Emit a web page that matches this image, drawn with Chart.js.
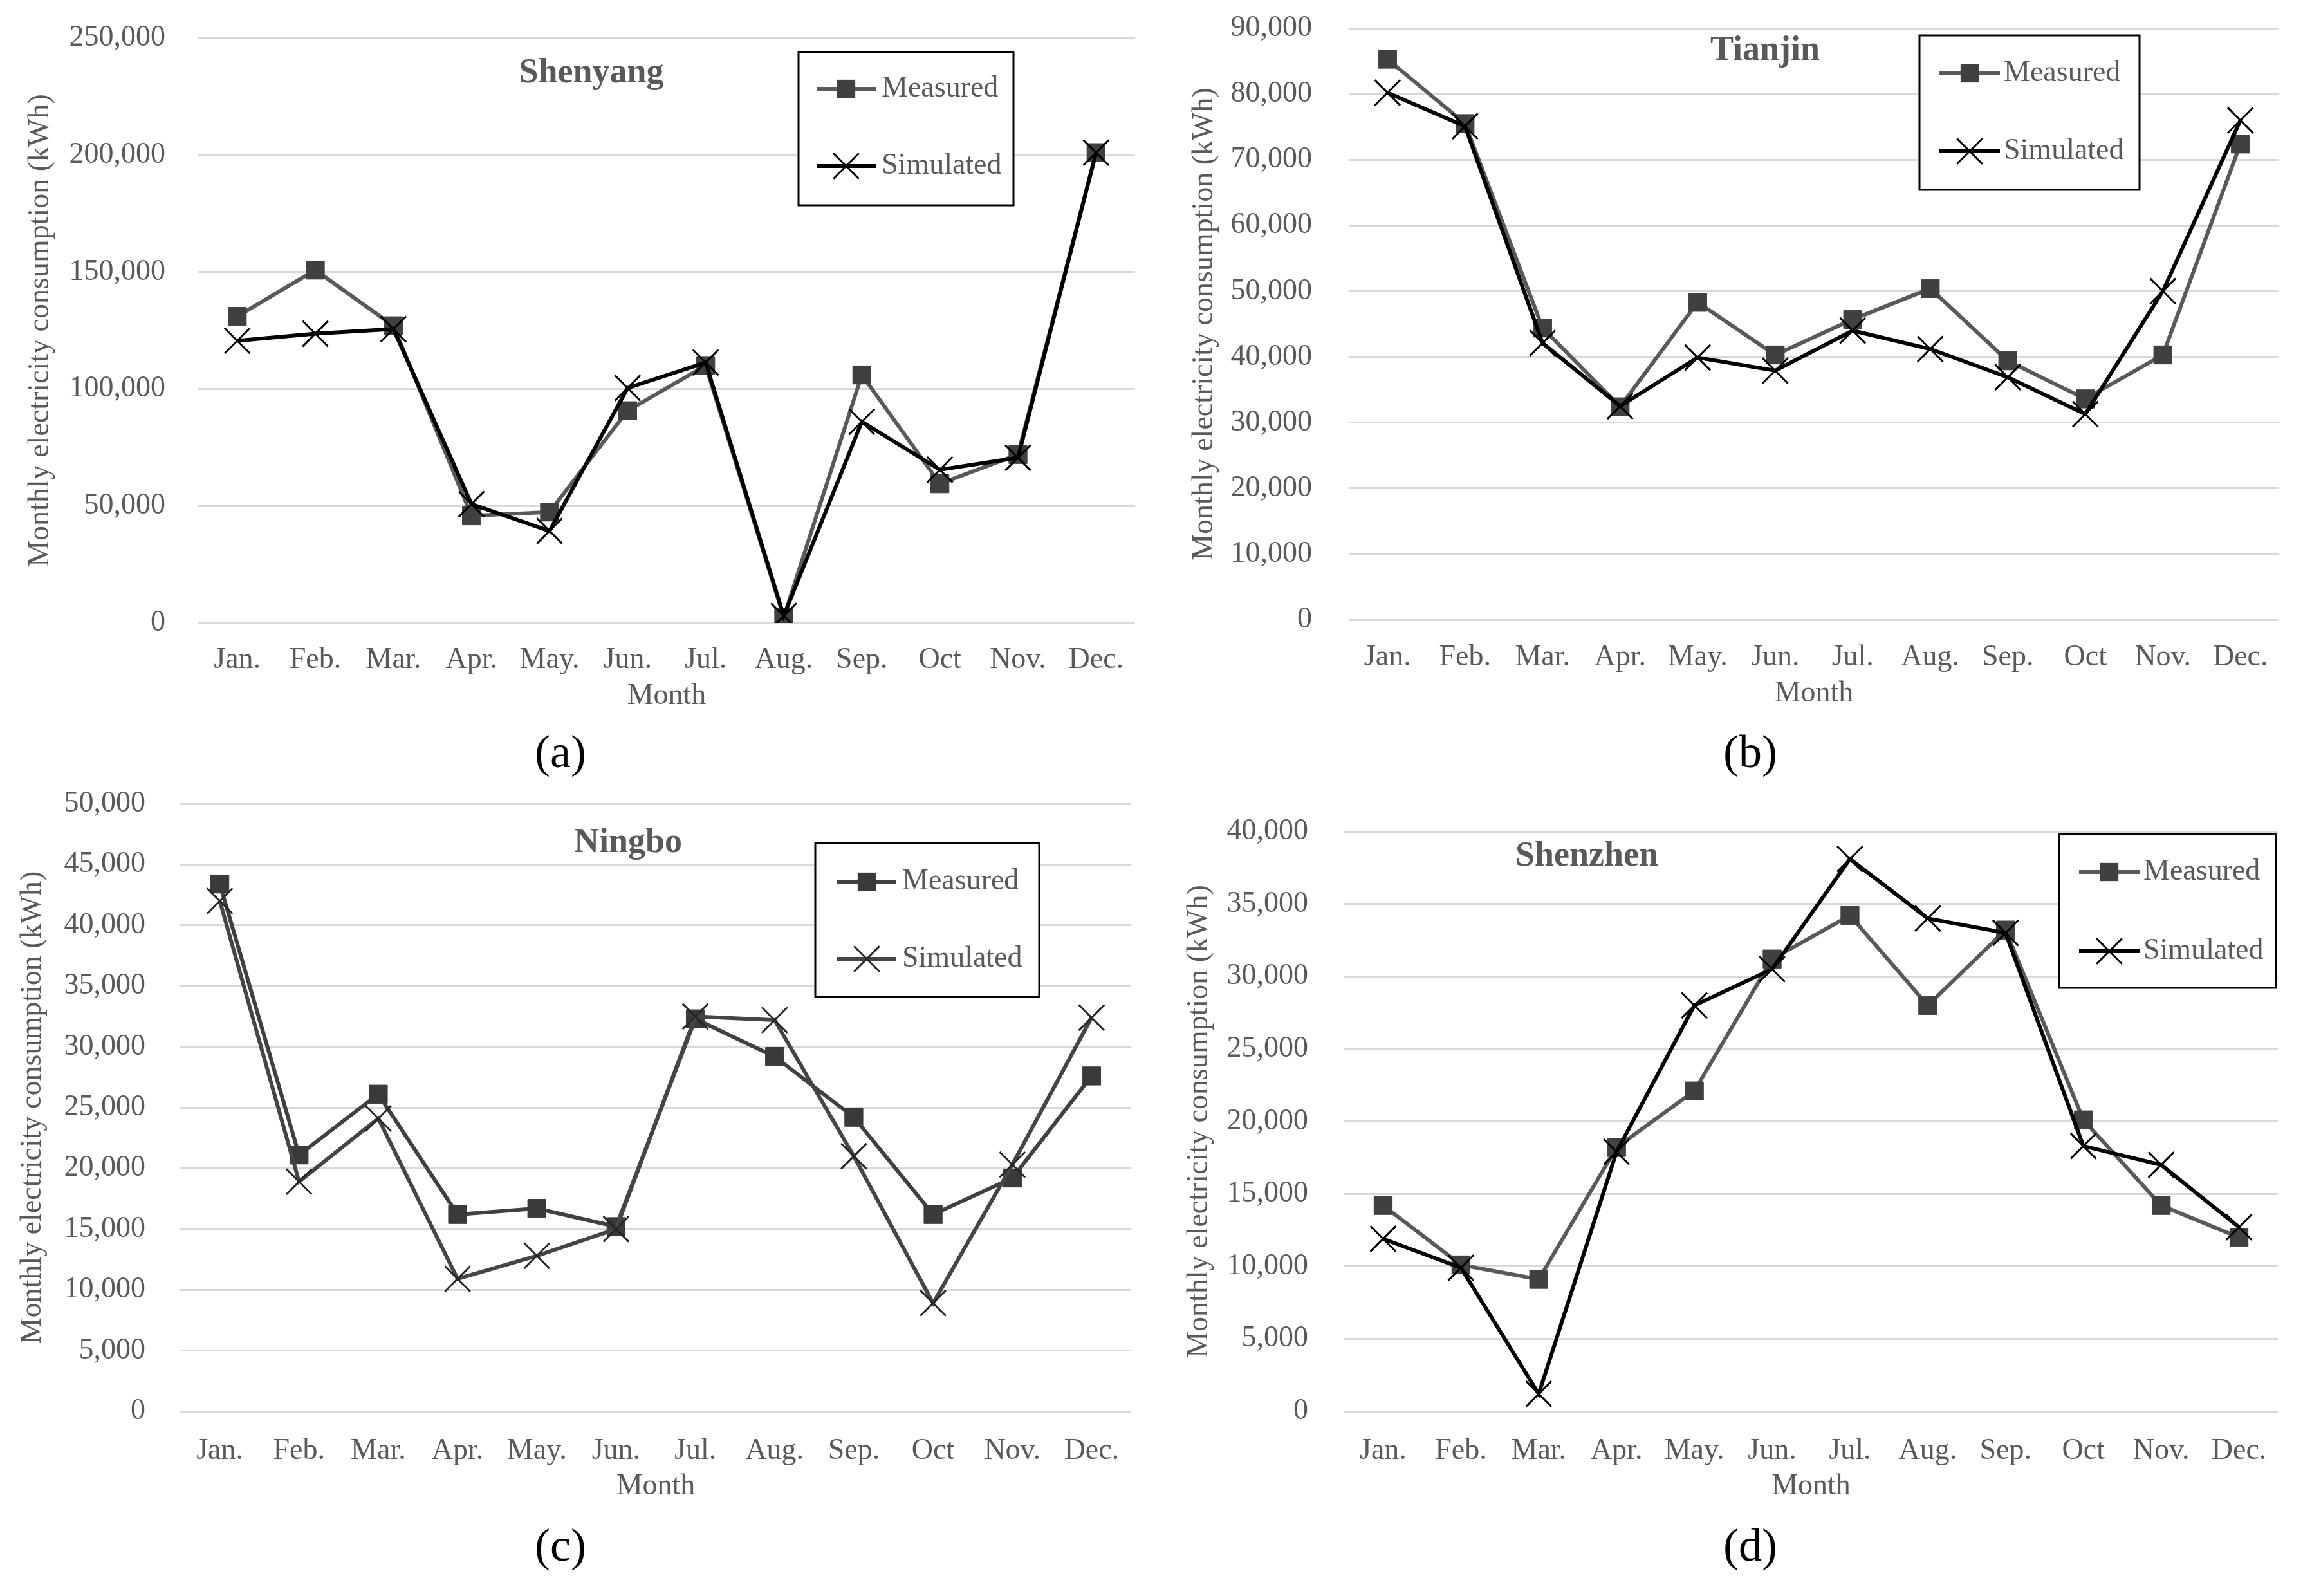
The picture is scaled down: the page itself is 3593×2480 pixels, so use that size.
<!DOCTYPE html>
<html>
<head>
<meta charset="utf-8">
<script src="https://cdn.jsdelivr.net/npm/chart.js@4.4.1/dist/chart.umd.min.js"></script>
<style>
  html, body { margin: 0; padding: 0; background: #fff; }
  #page { position: relative; width: 3593px; height: 2480px; overflow: hidden; background: #fff; }
  .panel { position: absolute; }
</style>
</head>
<body>
<div id="page">
  <div class="panel" style="left:0px;top:0px;width:1796px;height:1240px"><canvas id="chartA"></canvas></div>
  <div class="panel" style="left:1796px;top:0px;width:1797px;height:1240px"><canvas id="chartB"></canvas></div>
  <div class="panel" style="left:0px;top:1200px;width:1796px;height:1280px"><canvas id="chartC"></canvas></div>
  <div class="panel" style="left:1796px;top:1200px;width:1797px;height:1280px"><canvas id="chartD"></canvas></div>
</div>
<script>
// --- DATA ---
const months = ["Jan.", "Feb.", "Mar.", "Apr.", "May.", "Jun.", "Jul.", "Aug.", "Sep.", "Oct", "Nov.", "Dec."];
const seriesNames = ["Measured", "Simulated"];

const shenyangMeasured  = [131000, 150800, 127000, 45800, 47400, 90700, 110000, 2400, 106000, 59500, 72000, 201000];
const shenyangSimulated = [120600, 123600, 125600, 50800, 39300, 100400, 111300, 3000, 86000, 65500, 70600, 201000];

const tianjinMeasured  = [85300, 75500, 44400, 32400, 48300, 40300, 45700, 50400, 39400, 33600, 40300, 72400];
const tianjinSimulated = [80200, 75100, 42100, 32500, 39900, 37900, 44000, 41200, 36900, 31300, 50000, 76000];

const ningboMeasured  = [43400, 21100, 26100, 16200, 16700, 15200, 32300, 29200, 24200, 16200, 19200, 27600];
const ningboSimulated = [42000, 18900, 24100, 10900, 12800, 15000, 32500, 32200, 21000, 8900, 20300, 32400];

const shenzhenMeasured  = [14200, 10100, 9100, 18200, 22100, 31200, 34200, 28000, 33200, 20100, 14200, 12000];
const shenzhenSimulated = [11900, 9900, 1200, 17900, 28000, 30500, 38100, 34000, 33000, 18300, 17000, 12700];

const cityNames = ["Shenyang", "Tianjin", "Ningbo", "Shenzhen"];
const panelLabels = ["(a)", "(b)", "(c)", "(d)"];
const yMaxes = [250000, 90000, 50000, 40000];
const ySteps = [50000, 10000, 5000, 5000];

// --- STYLE ---
const FONT = '"Liberation Serif", "Times New Roman", serif';
const TEXT_GRAY = "#595959";
Chart.defaults.font.family = FONT;
Chart.defaults.color = TEXT_GRAY;

// draws in-plot title, boxed legend and the (a)..(d) label
const decor = {
    id: "decor",
    afterDraw(chart, args, o) {
        const ctx = chart.ctx;
        ctx.save();
        ctx.fillStyle = TEXT_GRAY;
        ctx.textAlign = "center";
        ctx.textBaseline = "middle";
        ctx.font = `bold 54px ${FONT}`;
        ctx.fillText(o.title, o.titleX, o.titleY);

        // legend box
        const [x1, y1, x2, y2] = o.box;
        ctx.fillStyle = "#fff";
        ctx.fillRect(x1, y1, x2 - x1, y2 - y1);
        ctx.strokeStyle = "#000";
        ctx.lineWidth = 3;
        ctx.strokeRect(x1, y1, x2 - x1, y2 - y1);

        chart.data.datasets.forEach((ds, i) => {
            const y = o.rows[i];
            const [lx1, lx2] = o.line;
            const cx = (lx1 + lx2) / 2;
            ctx.strokeStyle = ds.borderColor;
            ctx.lineWidth = ds.borderWidth;
            ctx.beginPath();
            ctx.moveTo(lx1, y);
            ctx.lineTo(lx2, y);
            ctx.stroke();
            if (ds.pointStyle === "rect") {
                const s = ds.pointRadius * Math.SQRT2;
                ctx.fillStyle = ds.pointBackgroundColor;
                ctx.fillRect(cx - s / 2, y - s / 2, s, s);
            } else {
                const a = ds.pointRadius * Math.SQRT1_2;
                ctx.strokeStyle = ds.pointBorderColor;
                ctx.lineWidth = ds.pointBorderWidth;
                ctx.beginPath();
                ctx.moveTo(cx - a, y - a); ctx.lineTo(cx + a, y + a);
                ctx.moveTo(cx + a, y - a); ctx.lineTo(cx - a, y + a);
                ctx.stroke();
            }
            ctx.fillStyle = TEXT_GRAY;
            ctx.textAlign = "left";
            ctx.font = `46px ${FONT}`;
            ctx.fillText(ds.label, o.textX, y);
        });

        // panel label
        ctx.fillStyle = "#000";
        ctx.textAlign = "center";
        ctx.font = `72px ${FONT}`;
        ctx.fillText(o.label, o.labelX, o.labelY);
        ctx.restore();
    }
};

// canvas-local layout of each panel
const layouts = [
    { w: 1796, h: 1240, l: 308, r: 1764, t: 59, b: 968, yPad: 51, yTitlePad: 35, xPad: 30, monthPad: 130,
      titleX: 919, titleY: 114, box: [1241, 81, 1575, 319], line: [1269, 1361], textX: 1370, rows: [138, 258],
      labelX: 871, labelY: 1173 },
    { w: 1797, h: 1240, l: 300, r: 1746, t: 44, b: 963, yPad: 57, yTitlePad: 48, xPad: 31, monthPad: 134,
      titleX: 947, titleY: 79, box: [1187, 55, 1529, 295], line: [1218, 1312], textX: 1318, rows: [114, 235],
      labelX: 924, labelY: 1173 },
    { w: 1796, h: 1280, l: 280, r: 1758, t: 49, b: 993, yPad: 54, yTitlePad: 23, xPad: 34, monthPad: 142,
      titleX: 976, titleY: 110, box: [1267, 110, 1615, 349], line: [1301, 1393], textX: 1402, rows: [170, 290],
      labelX: 871, labelY: 1206 },
    { w: 1797, h: 1280, l: 293, r: 1744, t: 92, b: 993, yPad: 56, yTitlePad: 40, xPad: 34, monthPad: 142,
      titleX: 670, titleY: 131, box: [1404, 96, 1741, 335], line: [1435, 1529], textX: 1535, rows: [155, 278],
      labelX: 924, labelY: 1206 }
];

function makePanel(id, idx, measured, simulated, colors) {
    const L = layouts[idx];
    return new Chart(document.getElementById(id), {
        type: "line",
        data: {
            labels: months,
            datasets: [
                {
                    label: seriesNames[0],
                    data: measured,
                    borderColor: colors.mLine,
                    borderWidth: 6,
                    pointStyle: "rect",
                    pointRadius: 20,
                    pointHoverRadius: 20,
                    pointBackgroundColor: colors.mPoint,
                    pointBorderColor: colors.mPoint,
                    pointBorderWidth: 1,
                    tension: 0,
                    order: 2
                },
                {
                    label: seriesNames[1],
                    data: simulated,
                    borderColor: colors.sLine,
                    borderWidth: 6,
                    pointStyle: "crossRot",
                    pointRadius: 28,
                    pointHoverRadius: 28,
                    pointBackgroundColor: colors.sPoint,
                    pointBorderColor: colors.sPoint,
                    pointBorderWidth: 3,
                    tension: 0,
                    order: 1
                }
            ]
        },
        options: {
            responsive: true,
            maintainAspectRatio: false,
            animation: false,
            devicePixelRatio: 1,
            layout: { padding: { left: 0, top: L.t, right: L.w - L.r, bottom: 0 } },
            plugins: {
                legend: { display: false },
                tooltip: { enabled: false },
                decor: {
                    title: cityNames[idx], titleX: L.titleX, titleY: L.titleY,
                    box: L.box, line: L.line, textX: L.textX, rows: L.rows,
                    label: panelLabels[idx], labelX: L.labelX, labelY: L.labelY
                }
            },
            scales: {
                x: {
                    offset: true,
                    grid: { display: false, drawTicks: false },
                    border: { display: false },
                    ticks: { padding: L.xPad, font: { size: 46 }, color: TEXT_GRAY, maxRotation: 0, autoSkip: false },
                    title: { display: true, text: "Month", font: { size: 46 }, color: TEXT_GRAY,
                             padding: { top: 0, bottom: L.monthPad } },
                    afterFit: s => { s.height = L.h - L.b; }
                },
                y: {
                    min: 0,
                    max: yMaxes[idx],
                    // invisible tick marks push the labels away from the plot
                    grid: { color: "#d9d9d9", lineWidth: 3, drawTicks: true, tickLength: L.yPad - 6,
                            tickColor: "rgba(0,0,0,0)" },
                    border: { display: false },
                    ticks: {
                        stepSize: ySteps[idx],
                        padding: 6,
                        font: { size: 46 },
                        color: TEXT_GRAY,
                        callback: v => v.toLocaleString("en-US")
                    },
                    title: { display: true, text: "Monthly electricity consumption (kWh)", font: { size: 46 },
                             color: TEXT_GRAY, padding: { top: L.yTitlePad, bottom: 0 } },
                    afterFit: s => { s.width = L.l; }
                }
            }
        },
        plugins: [decor]
    });
}

const grayBlack = { mLine: "#595959", mPoint: "#404040", sLine: "#000000", sPoint: "#000000" };
const allGray = { mLine: "#404040", mPoint: "#3a3a3a", sLine: "#454545", sPoint: "#262626" };

makePanel("chartA", 0, shenyangMeasured, shenyangSimulated, grayBlack);
makePanel("chartB", 1, tianjinMeasured, tianjinSimulated, grayBlack);
makePanel("chartC", 2, ningboMeasured, ningboSimulated, allGray);
makePanel("chartD", 3, shenzhenMeasured, shenzhenSimulated, grayBlack);
</script>
</body>
</html>
